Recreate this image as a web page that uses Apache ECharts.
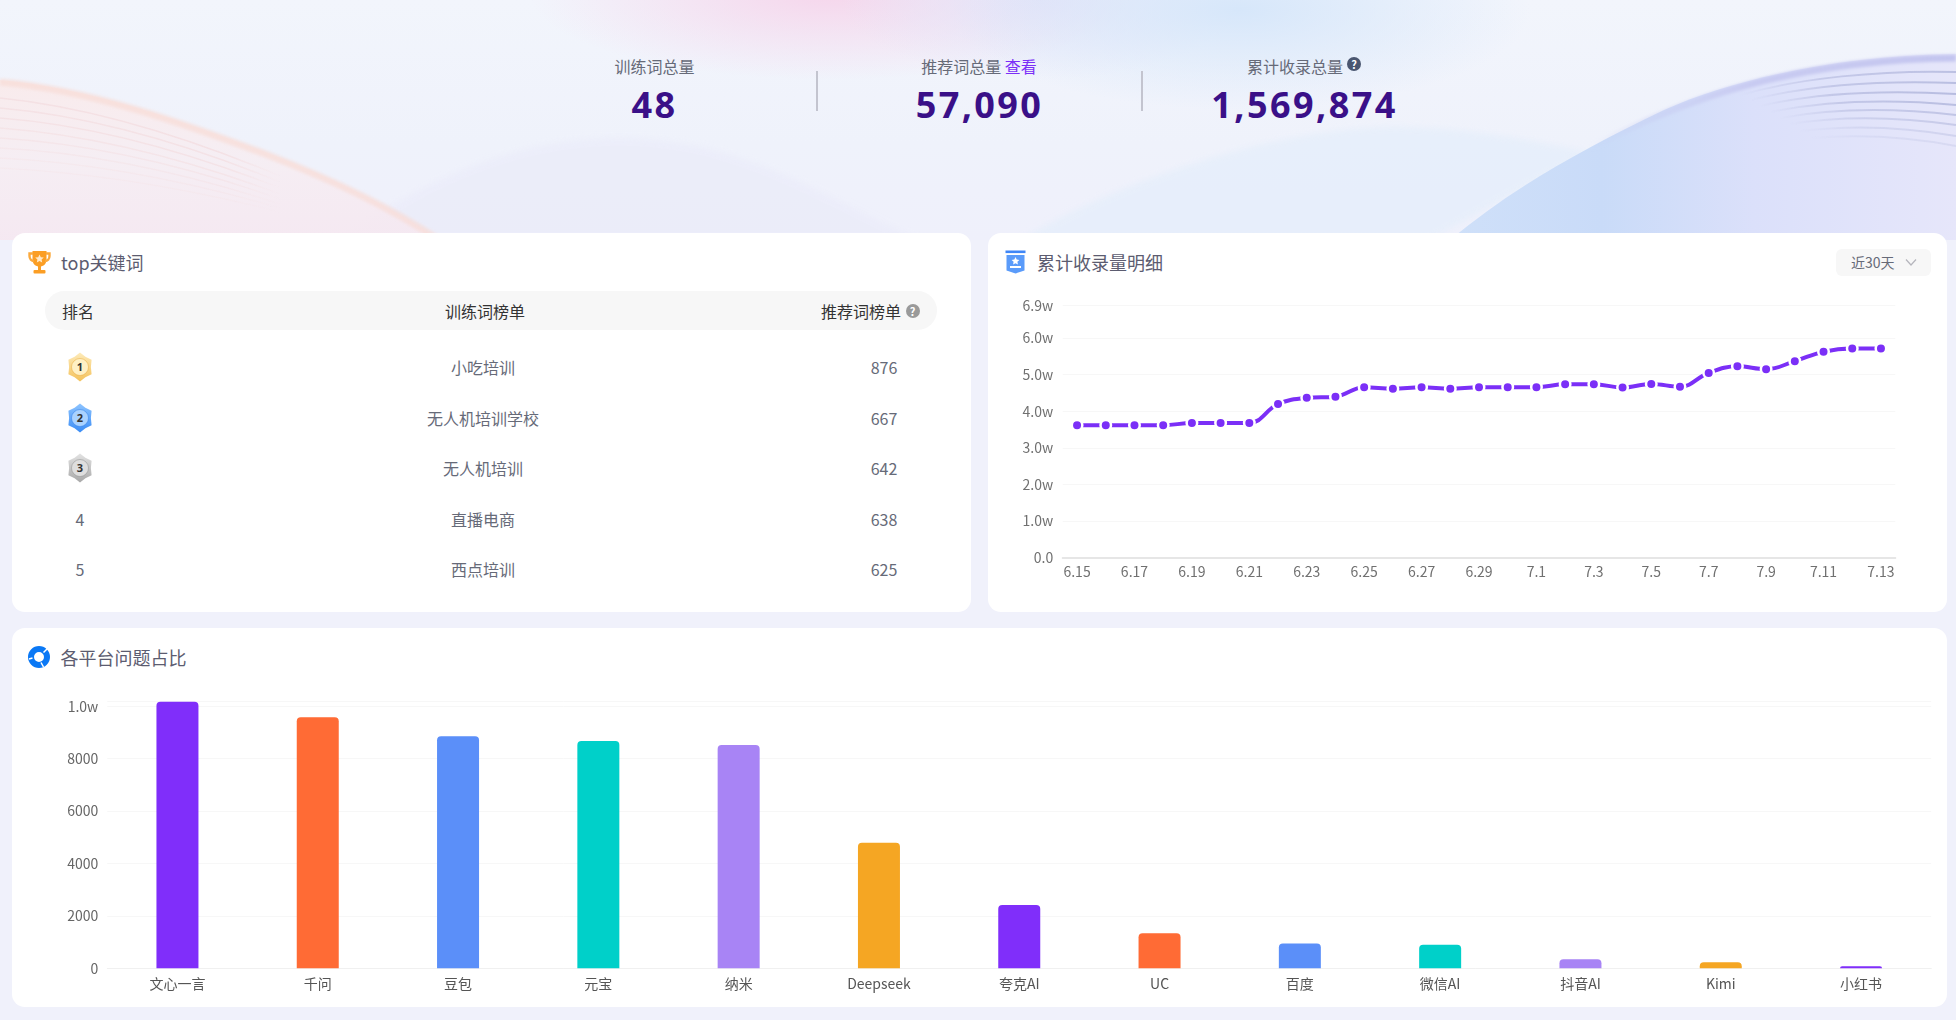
<!DOCTYPE html>
<html lang="zh-CN">
<head>
<meta charset="utf-8">
<title>dashboard</title>
<script src="https://cdn.jsdelivr.net/npm/echarts@6/dist/echarts.min.js"></script>
<style>
*{box-sizing:border-box}
html,body{margin:0;padding:0;width:1956px;height:1020px;overflow:hidden;background:#f0f1fb;font-family:"Noto Sans CJK SC","Noto Sans",sans-serif}
.abs{position:absolute}
#hero{left:0;top:0;width:1956px;height:240px}
.card{position:absolute;background:#fff;border-radius:13px}
.ct{position:absolute;transform:translate(-50%,-50%);white-space:nowrap}
.lt{position:absolute;transform:translateY(-50%);white-space:nowrap}
.kl{font-size:16px;color:#666a78}
.kv{font-size:36px;font-weight:700;color:#3a1088;letter-spacing:2.4px;font-family:"Noto Sans","Noto Sans CJK SC",sans-serif}
.title{font-size:18px;color:#5c5c70}
.th{font-size:16px;color:#333}
.td{font-size:16px;color:#666a78}
.q{position:absolute;border-radius:50%;color:#fff;font-size:11px;font-weight:700;text-align:center;width:14px;height:14px;line-height:14px;transform:translate(-50%,-50%)}
#chart{position:absolute;left:0;top:0;width:1956px;height:1020px;z-index:5}
</style>
</head>
<body>
<svg id="hero" class="abs" viewBox="0 0 1956 240" preserveAspectRatio="none">
<defs>
<linearGradient id="bg" x1="0" y1="0" x2="0" y2="1"><stop offset="0" stop-color="#f2f5fc"/><stop offset=".6" stop-color="#eff2fb"/><stop offset="1" stop-color="#eff0fb"/></linearGradient>
<radialGradient id="pink"><stop offset="0" stop-color="#f6d3ea" stop-opacity=".9"/><stop offset="1" stop-color="#f6d3ea" stop-opacity="0"/></radialGradient>
<radialGradient id="blue"><stop offset="0" stop-color="#d5e6fa" stop-opacity=".95"/><stop offset="1" stop-color="#d5e6fa" stop-opacity="0"/></radialGradient>
<radialGradient id="lav"><stop offset="0" stop-color="#e3e3f8" stop-opacity=".9"/><stop offset="1" stop-color="#e3e3f8" stop-opacity="0"/></radialGradient>
<linearGradient id="lf" x1="0" y1="0" x2="0" y2="1"><stop offset="0" stop-color="#fbe9e8" stop-opacity=".8"/><stop offset=".5" stop-color="#f8ecf0" stop-opacity=".7"/><stop offset="1" stop-color="#f5e8f1" stop-opacity=".95"/></linearGradient>
<linearGradient id="rf" x1="0" y1="0" x2="1" y2="0"><stop offset="0" stop-color="#cfe0f9"/><stop offset=".3" stop-color="#c9dbf8"/><stop offset=".6" stop-color="#dbe0fa"/><stop offset="1" stop-color="#e6e6fa"/></linearGradient>
<linearGradient id="rs" x1="0" y1="0" x2="1" y2="0"><stop offset="0" stop-color="#b7bce0" stop-opacity="0"/><stop offset=".4" stop-color="#b7bce0" stop-opacity=".75"/><stop offset="1" stop-color="#b7bce0"/></linearGradient>
<linearGradient id="ledge" gradientUnits="userSpaceOnUse" x1="1590" y1="0" x2="1956" y2="0"><stop offset="0" stop-color="#c3c5ef" stop-opacity="0"/><stop offset=".45" stop-color="#c3c5ef" stop-opacity=".8"/><stop offset="1" stop-color="#c3c5ef"/></linearGradient>
<linearGradient id="ls" x1="0" y1="0" x2="1" y2="0"><stop offset="0" stop-color="#f3dde0"/><stop offset=".8" stop-color="#f3dde0"/><stop offset="1" stop-color="#f3dde0" stop-opacity="0"/></linearGradient>
<filter id="b3" x="-10%" y="-20%" width="120%" height="140%"><feGaussianBlur stdDeviation="3"/></filter>
<filter id="b1" x="-10%" y="-30%" width="120%" height="160%"><feGaussianBlur stdDeviation="1.8"/></filter>
<filter id="b0" x="-10%" y="-30%" width="120%" height="160%"><feGaussianBlur stdDeviation=".7"/></filter>
</defs>
<rect width="1956" height="240" fill="url(#bg)"/>
<ellipse cx="830" cy="-5" rx="300" ry="85" fill="url(#pink)"/>
<ellipse cx="1040" cy="0" rx="200" ry="80" fill="url(#lav)"/>
<ellipse cx="1240" cy="10" rx="290" ry="100" fill="url(#blue)"/>
<path d="M340 240C430 175 520 138 620 138C740 138 820 195 920 240Z" fill="#e9eaf9" opacity=".55" filter="url(#b3)"/>
<path d="M1020 240C1130 175 1290 125 1400 127C1470 128 1530 140 1590 152L1430 240Z" fill="#e4eefb" opacity=".7" filter="url(#b3)"/>
<path d="M0 80C90 88 180 120 268 153C330 177 390 205 439 240L0 240Z" fill="url(#lf)"/>
<path d="M0 82C90 90 180 122 268 155C330 179 390 207 439 240" fill="none" stroke="#f8dcd6" stroke-width="7" opacity=".7" filter="url(#b1)"/>
<g fill="none" stroke="url(#ls)" stroke-width="1.6" filter="url(#b0)">
<path d="M0 98C80 106 170 130 280 176" opacity=".75"/><path d="M0 108C80 115 170 137 280 182" opacity=".7"/><path d="M0 118C80 124 170 145 280 188" opacity=".65"/><path d="M0 128C80 134 170 153 280 194" opacity=".55"/><path d="M0 138C80 143 170 160 280 199" opacity=".45"/><path d="M0 148C80 152 170 168 280 204" opacity=".35"/><path d="M0 158C80 162 170 176 280 208" opacity=".28"/><path d="M0 168C80 172 170 184 280 212" opacity=".2"/>
</g>
<path d="M1450 240C1510 190 1580 150 1664 110C1730 80 1840 55 1956 54L1956 240Z" fill="url(#rf)"/>
<path d="M1590 148C1660 111 1740 79 1850 65C1890 60 1930 58 1956 58" fill="none" stroke="url(#ledge)" stroke-width="7" filter="url(#b1)"/>
<g fill="none" stroke="url(#rs)" stroke-width="2" filter="url(#b0)">
<path d="M1740 95C1800 78 1880 70 1956 72" opacity=".9"/><path d="M1750 100C1810 85 1880 80 1956 83" opacity=".95"/><path d="M1760 106C1820 92 1885 90 1956 94" opacity="1"/><path d="M1770 112C1830 100 1890 99 1956 105" opacity=".95"/><path d="M1780 118C1835 108 1895 108 1956 115" opacity=".8"/><path d="M1790 124C1840 116 1900 117 1956 125" opacity=".65"/><path d="M1800 131C1850 125 1905 127 1956 136" opacity=".45"/><path d="M1810 138C1860 134 1910 137 1956 146" opacity=".3"/>
</g>
</svg>

<div id="kpis"></div>

<div class="card" style="left:12px;top:233px;width:959px;height:379px"></div>
<div class="card" style="left:988px;top:233px;width:959px;height:379px"></div>
<div class="card" style="left:12px;top:628px;width:1935px;height:379px"></div>

<svg class="abs" style="left:27.5px;top:250px" width="23" height="24" viewBox="0 0 23 24">
<path d="M4.5 1H18.5V9.5C18.5 14 15.500 16.500 11.500 16.500C7.500 16.500 4.500 14 4.500 9.500Z" fill="#fb9e24"/>
<path d="M5 3.500H1.500V6C1.500 9 3.500 11 6 11M18 3.500H21.500V6C21.500 9 19.500 11 17 11" fill="none" stroke="#fba93c" stroke-width="2.4"/>
<rect x="10" y="16" width="3" height="4" fill="#fb9e24"/><rect x="5.500" y="20" width="12" height="3.400" rx="1" fill="#fb9e24"/>
<path d="M11.500 4.500l1.300 2.700 3 .4-2.200 2 .6 3-2.700-1.500-2.700 1.500.6-3-2.200-2 3-.4z" fill="#ffe9c8"/>
</svg>
<svg class="abs" style="left:1005px;top:250px" width="21" height="24" viewBox="0 0 21 24">
<rect x="0.5" y="0.5" width="20" height="2.600" fill="#3f86f7"/>
<path d="M1.500 5H19.500V20.500L10.500 23.500L1.500 20.500Z" fill="#5a9bfa"/>
<path d="M10.500 7l1.200 2.500 2.700.4-2 1.900.5 2.700-2.400-1.300-2.400 1.300.5-2.700-2-1.900 2.700-.4z" fill="#fff"/>
<rect x="5" y="16" width="11" height="2" fill="#fff"/>
</svg>
<svg class="abs" style="left:28px;top:646px" width="22" height="22" viewBox="0 0 22 22">
<circle cx="11" cy="11" r="8" fill="none" stroke="#0a78f5" stroke-width="6"/>
<path d="M15.500 6.500L19.500 2.500M4.500 12L1 13M13 16.500L15.500 21" stroke="#fff" stroke-width="1.500"/>
</svg>

<div class="lt title" style="left:61px;top:261.5px">top关键词</div>
<div class="lt title" style="left:1037px;top:261.5px">累计收录量明细</div>
<div class="lt title" style="left:60.5px;top:657px">各平台问题占比</div>

<div class="abs" style="left:45px;top:291px;width:892px;height:39px;background:#f7f7f7;border-radius:20px"></div>
<div id="thead"></div>
<div id="tbody"></div>
<div class="q" style="left:912.5px;top:311px;background:#9a9a9a">?</div>

<div class="abs" style="left:1836px;top:249px;width:95px;height:27px;background:#f7f7f7;border-radius:6px"></div>
<div class="lt" style="left:1851px;top:262px;font-size:14px;color:#666a78">近30天</div>
<svg class="abs" style="left:1905px;top:258px" width="12" height="9" viewBox="0 0 12 9"><path d="M1 1.500L6 7L11 1.500" fill="none" stroke="#b5b5bc" stroke-width="1.200"/></svg>

<div id="chart"></div>

<script>
var kpiLabels = ['训练词总量', '推荐词总量', '累计收录总量'];
var kpiValues = ['48', '57,090', '1,569,874'];
var linkText = '查看';

var tableHeads = ['排名', '训练词榜单', '推荐词榜单'];
var ranks = [1, 2, 3, 4, 5];
var keywords = ['小吃培训', '无人机培训学校', '无人机培训', '直播电商', '西点培训'];
var keywordCounts = [876, 667, 642, 638, 625];

var days = ['6.15','6.16','6.17','6.18','6.19','6.20','6.21','6.22','6.23','6.24','6.25','6.26','6.27','6.28','6.29','6.30','7.1','7.2','7.3','7.4','7.5','7.6','7.7','7.8','7.9','7.10','7.11','7.12','7.13'];
var totals = [36200,36200,36200,36200,36800,36800,36800,42000,43700,44000,46600,46200,46600,46200,46600,46600,46600,47400,47400,46500,47500,46700,50500,52300,51500,53700,56300,57200,57200];

var platforms = ['文心一言','千问','豆包','元宝','纳米','Deepseek','夸克AI','UC','百度','微信AI','抖音AI','Kimi','小红书'];
var platformCounts = [10176,9580,8860,8680,8520,4790,2420,1340,950,900,350,230,80];
var barColors = ['#802efa','#ff6b35','#5b8ff9','#00d0c9','#a884f5','#f5a623'];

var kpiDom = document.getElementById('kpis');
var kpiX = [654.5, 979.5, 1304.5];
var labelX = [654.5, 979, 1295];
var h = '';
for (var k = 0; k < 3; k++) {
  var extra = k === 1 ? ' <span style="color:#7b2ff7">' + linkText + '</span>' : '';
  h += '<div class="ct kl" style="left:' + labelX[k] + 'px;top:66px">' + kpiLabels[k] + extra + '</div>';
  h += '<div class="ct kv" style="left:' + kpiX[k] + 'px;top:103.5px">' + kpiValues[k] + '</div>';
}
h += '<div class="q" style="left:1354px;top:64px;background:#4a5670">?</div>';
h += '<div class="abs" style="left:816px;top:71px;width:1.5px;height:40px;background:#c3c4cf"></div>';
h += '<div class="abs" style="left:1141px;top:71px;width:1.5px;height:40px;background:#c3c4cf"></div>';
kpiDom.innerHTML = h;

document.getElementById('thead').innerHTML =
  '<div class="lt th" style="left:62px;top:311px">' + tableHeads[0] + '</div>' +
  '<div class="ct th" style="left:485px;top:311px">' + tableHeads[1] + '</div>' +
  '<div class="lt th" style="left:821px;top:311px">' + tableHeads[2] + '</div>';

var medalColors = [
  ['#fdeab8','#f4c25c','#fff0c4','#e8a93a'],
  ['#8dc4ff','#3a8cf5','#a9d2ff','#2f7ce8'],
  ['#e2e2e2','#a8a8a8','#dedede','#8f8f8f']
];
var rowY = [367, 418, 468, 519, 569];
function medal(i) {
  var c = medalColors[i], pts = [];
  for (var a = 0; a < 12; a++) {
    var r = a % 2 === 0 ? 14.5 : 11.8;
    var t = (a * 30 - 90) * Math.PI / 180;
    pts.push((13 + r * 0.92 * Math.cos(t)).toFixed(1) + ',' + (15 + r * Math.sin(t)).toFixed(1));
  }
  return '<svg class="abs" style="left:67px;top:' + (rowY[i] - 15) + 'px" width="26" height="30" viewBox="0 0 26 30">' +
    '<defs><linearGradient id="m' + i + '" x1="0" y1="0" x2="0" y2="1"><stop offset="0" stop-color="' + c[0] + '"/><stop offset="1" stop-color="' + c[1] + '"/></linearGradient></defs>' +
    '<polygon points="' + pts.join(' ') + '" fill="url(#m' + i + ')"/>' +
    '<circle cx="13" cy="15" r="8.5" fill="' + c[2] + '" stroke="' + c[3] + '" stroke-width=".5"/>' +
    '<text x="13" y="19" text-anchor="middle" font-size="11" font-weight="700" fill="#333" font-family="Noto Sans">' + ranks[i] + '</text></svg>';
}
var b = '';
for (var i = 0; i < 5; i++) {
  b += i < 3 ? medal(i) : '<div class="ct td" style="left:80px;top:' + rowY[i] + 'px">' + ranks[i] + '</div>';
  b += '<div class="ct td" style="left:483px;top:' + rowY[i] + 'px">' + keywords[i] + '</div>';
  b += '<div class="ct td" style="left:884px;top:' + rowY[i] + 'px">' + keywordCounts[i] + '</div>';
}
document.getElementById('tbody').innerHTML = b;

var font = '"Noto Sans CJK SC","Noto Sans",sans-serif';
var chart = echarts.init(document.getElementById('chart'), null, { renderer: 'canvas' });
chart.setOption({
  animation: false,
  backgroundColor: 'transparent',
  grid: [
    { left: 1062.7, right: 60.7, top: 305.2, height: 252.5 },
    { left: 107.3, right: 24.8, top: 701.7, height: 266.6 }
  ],
  xAxis: [
    {
      type: 'category', gridIndex: 0, data: days, boundaryGap: true,
      axisLine: { lineStyle: { color: '#e6e6e6', width: 2 } },
      axisTick: { interval: 1, length: 5, lineStyle: { color: '#e0e0e0' } },
      axisLabel: { interval: 1, color: '#707070', fontSize: 14, margin: 7, fontFamily: font, hideOverlap: false }
    },
    {
      type: 'category', gridIndex: 1, data: platforms, boundaryGap: true,
      axisLine: { lineStyle: { color: '#f0f0f0', width: 1 } },
      axisTick: { length: 5, lineStyle: { color: '#f0f0f0' } },
      axisLabel: { interval: 0, color: '#555', fontSize: 14, margin: 8, fontFamily: font }
    }
  ],
  yAxis: [
    {
      type: 'value', gridIndex: 0, min: 0, max: 69000, interval: 10000,
      axisLine: { show: false }, axisTick: { show: false },
      splitLine: { lineStyle: { color: '#f7f7f7' } },
      axisLabel: { color: '#707070', fontSize: 14, margin: 9.5, fontFamily: font,
        formatter: function (v) { return v === 0 ? '0.0' : (v / 10000).toFixed(1) + 'w'; } }
    },
    {
      type: 'value', gridIndex: 1, min: 0, max: 10176, interval: 2000,
      axisLine: { show: false }, axisTick: { show: false },
      splitLine: { lineStyle: { color: '#f7f7f7' } },
      axisLabel: { color: '#666', fontSize: 14, margin: 9, fontFamily: font, showMaxLabel: false,
        formatter: function (v) { return v >= 10000 ? (v / 10000).toFixed(1) + 'w' : String(v); } }
    }
  ],
  series: [
    {
      type: 'line', xAxisIndex: 0, yAxisIndex: 0, data: totals, smooth: 0.4,
      symbol: 'circle', symbolSize: 10.5, showSymbol: true,
      lineStyle: { color: '#7b2ff7', width: 4 },
      itemStyle: { color: '#7b2ff7', borderColor: '#fff', borderWidth: 2.5 }
    },
    {
      type: 'bar', xAxisIndex: 1, yAxisIndex: 1, barWidth: 42,
      data: platformCounts.map(function (v, idx) {
        return { value: v, itemStyle: { color: barColors[idx % barColors.length], borderRadius: [4, 4, 0, 0] } };
      })
    }
  ]
});
</script>
</body>
</html>
